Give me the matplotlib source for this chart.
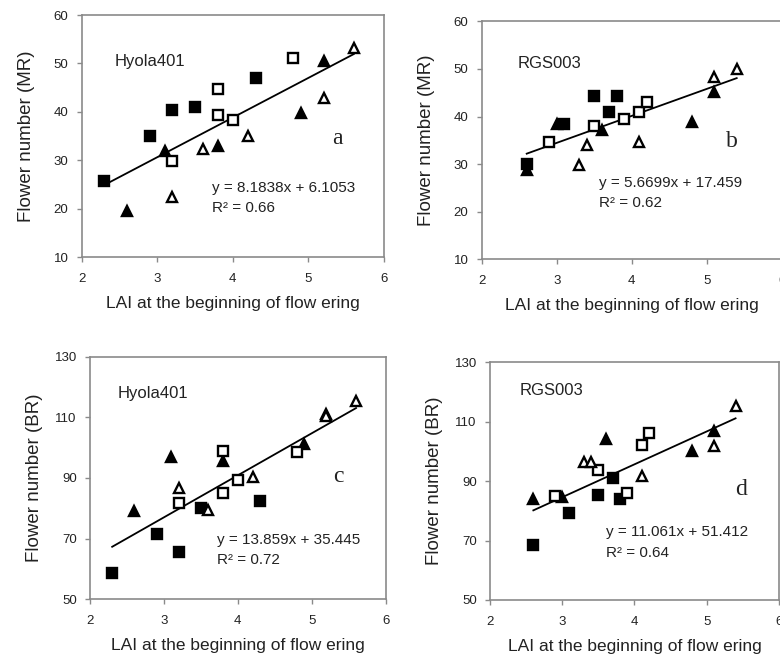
import numpy as np
import matplotlib
matplotlib.use('Agg')
import matplotlib.pyplot as plt

plt.rcParams['font.family'] = ['Liberation Sans', 'DejaVu Sans']

# (LAI, flower number) for the four marker series in each panel
# panel a: Hyola401, MR
a_fsq = [(2.3, 25.8), (2.9, 35.0), (3.2, 40.3), (3.5, 41.0), (4.3, 47.0)]
a_ftri = [(2.6, 19.5), (3.1, 32.0), (3.8, 33.0), (4.9, 39.8), (5.2, 50.5)]
a_osq = [(3.2, 29.9), (3.8, 44.8), (3.8, 39.3), (4.0, 38.4), (4.8, 51.1)]
a_otri = [(3.2, 22.5), (3.6, 32.3), (4.2, 35.0), (5.2, 42.8), (5.6, 53.1)]

# panel b: RGS003, MR
b_fsq = [(2.6, 30.0), (3.1, 38.4), (3.5, 44.4), (3.7, 41.0), (3.8, 44.4)]
b_ftri = [(2.6, 28.7), (3.0, 38.4), (3.6, 37.2), (4.8, 38.9), (5.1, 45.2)]
b_osq = [(2.9, 34.7), (3.5, 38.0), (3.9, 39.4), (4.1, 41.0), (4.2, 43.1)]
b_otri = [(3.3, 29.8), (3.4, 34.0), (4.1, 34.7), (5.1, 48.4), (5.4, 50.0)]

# panel c: Hyola401, BR
c_fsq = [(2.3, 58.6), (2.9, 71.5), (3.2, 65.5), (3.5, 80.0), (4.3, 82.5)]
c_ftri = [(2.6, 79.1), (3.1, 96.8), (3.8, 95.7), (4.9, 101.2), (5.2, 111.0)]
c_osq = [(3.2, 81.6), (3.8, 99.0), (3.8, 84.9), (4.0, 89.3), (4.8, 98.7)]
c_otri = [(3.2, 86.6), (3.6, 79.5), (4.2, 90.4), (5.2, 110.4), (5.6, 115.4)]

# panel d: RGS003, BR
d_fsq = [(2.6, 68.5), (3.1, 79.4), (3.5, 85.4), (3.7, 91.0), (3.8, 83.9)]
d_ftri = [(2.6, 83.9), (3.0, 84.8), (3.6, 104.2), (4.8, 100.0), (5.1, 107.0)]
d_osq = [(2.9, 85.0), (3.5, 93.8), (3.9, 86.0), (4.1, 102.2), (4.2, 106.2)]
d_otri = [(3.3, 96.6), (3.4, 96.6), (4.1, 91.8), (5.1, 101.9), (5.4, 115.4)]

# trend lines (slope, intercept, r2) as printed
a_fit = (8.1838, 6.1053, 0.66)
b_fit = (5.6699, 17.459, 0.62)
c_fit = (13.859, 35.445, 0.72)
d_fit = (11.061, 51.412, 0.64)

cultivars = ['Hyola401', 'RGS003', 'Hyola401', 'RGS003']
ylabels = ['Flower number (MR)', 'Flower number (MR)',
           'Flower number (BR)', 'Flower number (BR)']
letters = ['a', 'b', 'c', 'd']
xlabel = 'LAI at the beginning of flow ering'

W, H = 780, 660
fig = plt.figure(figsize=(W / 100, H / 100), dpi=100)

# axes boxes in pixels: left, top, width, height
boxes = [(81.7, 15.0, 302.3, 242.3),
         (481.7, 21.4, 300.0, 237.9),
         (90.0, 356.7, 295.6, 242.6),
         (490.0, 362.3, 288.9, 237.7)]
ylims = [(10, 60), (10, 60), (50, 130), (50, 130)]
yticks = [np.arange(10, 61, 10), np.arange(10, 61, 10),
          np.arange(50, 131, 20), np.arange(50, 131, 20)]
series = [(a_fsq, a_ftri, a_osq, a_otri), (b_fsq, b_ftri, b_osq, b_otri),
          (c_fsq, c_ftri, c_osq, c_otri), (d_fsq, d_ftri, d_osq, d_otri)]
fits = [a_fit, b_fit, c_fit, d_fit]
# text positions in data coords: cultivar, letter, equation
name_pos = [(2.43, 50.5), (2.48, 51.2), (2.37, 117.9), (2.41, 120.4)]
letter_pos = [(5.38, 34.5), (5.33, 34.7), (5.36, 90.4), (5.48, 87.3)]
eq_pos = [(3.72, 24.4, 20.1), (3.57, 26.0, 21.8), (3.72, 69.6, 63.0), (3.60, 72.8, 65.7)]

grey = '#8a8a8a'
txt = '#222222'
for i in range(4):
    l, t, w, h = boxes[i]
    ax = fig.add_axes([l / W, 1 - (t + h) / H, w / W, h / H])
    fsq, ftri, osq, otri = series[i]
    for pts, mk, fc in [(fsq, 's', 'black'), (ftri, '^', 'black'),
                        (osq, 's', 'white'), (otri, '^', 'white')]:
        xs = [p[0] for p in pts]
        ys = [p[1] for p in pts]
        ax.plot(xs, ys, linestyle='none', marker=mk, markersize=7.5,
                markerfacecolor=fc, markeredgecolor='black',
                markeredgewidth=1.7, zorder=3)
    allx = [p[0] for s in series[i] for p in s]
    xl = np.array([min(allx), max(allx)])
    slope, icpt, r2 = fits[i]
    ax.plot(xl, slope * xl + icpt, color='black', linewidth=1.3, zorder=2)

    ax.set_xlim(2, 6)
    ax.set_ylim(*ylims[i])
    ax.set_xticks([2, 3, 4, 5, 6])
    ax.set_yticks(yticks[i])
    for sp in ax.spines.values():
        sp.set_color(grey)
        sp.set_linewidth(1.2)
    ax.tick_params(direction='out', length=3.5, width=1.0, color=grey,
                   labelsize=9.5, labelcolor=txt)
    ax.tick_params(axis='x', pad=8)
    ax.tick_params(axis='y', pad=6)

    ax.set_ylabel(ylabels[i], fontsize=13.5, color=txt)
    ax.yaxis.set_label_coords(-47 / w, 0.5)
    ax.set_xlabel(xlabel, fontsize=12.5, color=txt)
    ax.xaxis.set_label_coords(0.5, -39 / h)

    ax.text(name_pos[i][0], name_pos[i][1], cultivars[i], fontsize=12,
            va='center', ha='left', color=txt)
    ax.text(letter_pos[i][0], letter_pos[i][1], letters[i], fontsize=17,
            family='Liberation Serif', va='center', ha='center', color=txt)
    ax.text(eq_pos[i][0], eq_pos[i][1],
            'y = %sx + %s' % (f'{slope:g}', f'{icpt:g}'),
            fontsize=11, va='center', ha='left', color=txt)
    ax.text(eq_pos[i][0], eq_pos[i][2], 'R\u00b2 = %.2f' % r2,
            fontsize=11, va='center', ha='left', color=txt)

fig.savefig('out.png', dpi=100)
